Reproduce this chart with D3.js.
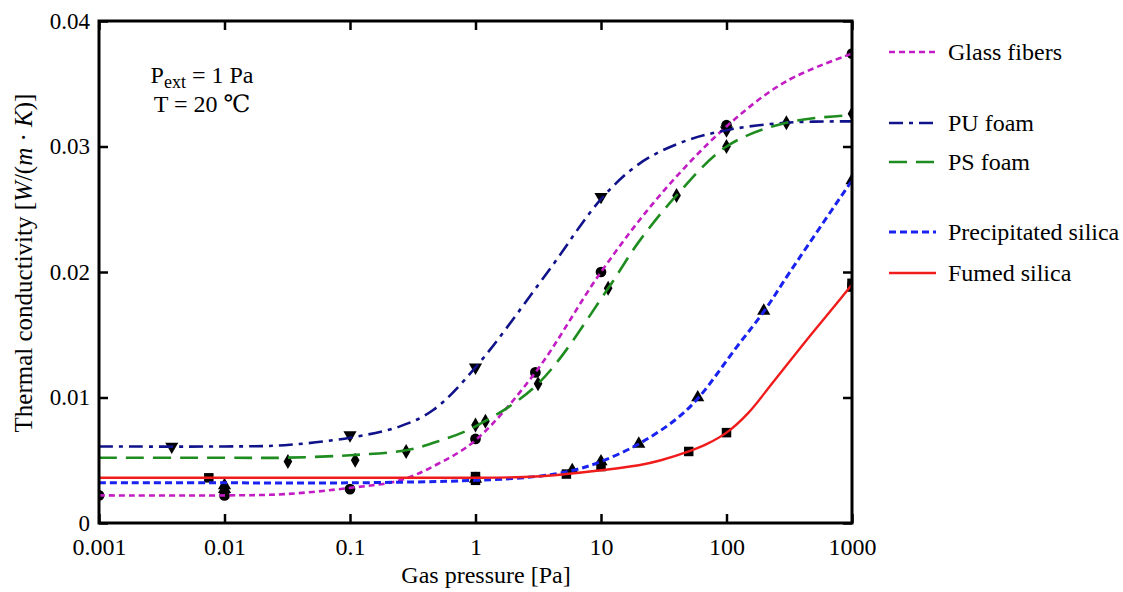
<!DOCTYPE html>
<html>
<head>
<meta charset="utf-8">
<script src="https://cdn.jsdelivr.net/npm/d3@7"></script>
<style>
  html, body { margin: 0; padding: 0; background: #fff; }
  svg text { font-family: "Liberation Serif", "Times New Roman", Tinos, "DejaVu Serif", serif !important; fill: #000; }
</style>
</head>
<body>
<svg id="chart" width="1123" height="592"></svg>
<script>
// Axis ticks
const pressureTicks = [0.001, 0.01, 0.1, 1, 10, 100, 1000];
const pressureTickLabels = ["0.001", "0.01", "0.1", "1", "10", "100", "1000"];
const conductivityTicks = [0, 0.01, 0.02, 0.03, 0.04];
const conductivityTickLabels = ["0", "0.01", "0.02", "0.03", "0.04"];

// Series names
const seriesNames = ["Glass fibers", "PU foam", "PS foam", "Precipitated silica", "Fumed silica"];

// Fitted curves: gas pressure [Pa] and thermal conductivity [W/(m·K)]
const glassCurveP = [0.001, 0.01, 0.03, 0.1, 0.25, 0.5, 1, 3, 10, 30, 100, 300, 1000];
const glassCurveK = [0.0022, 0.0022, 0.0023, 0.0028, 0.0034, 0.0047, 0.0066, 0.0120, 0.0200, 0.0262, 0.0316, 0.0352, 0.0374];

const puCurveP = [0.001, 0.01, 0.03, 0.1, 0.25, 0.46, 1, 3.7, 10, 20, 43, 100, 300, 1000];
const puCurveK = [0.0061, 0.0061, 0.0062, 0.0068, 0.0077, 0.0090, 0.0124, 0.0199, 0.0258, 0.0286, 0.0303, 0.0313, 0.0319, 0.0320];

const psCurveP = [0.001, 0.01, 0.03, 0.1, 0.28, 0.5, 1, 3.15, 11.4, 20, 40, 100, 300, 1000];
const psCurveK = [0.0052, 0.0052, 0.0052, 0.0054, 0.0058, 0.0065, 0.0077, 0.0111, 0.0187, 0.0224, 0.0261, 0.0300, 0.0319, 0.0325];

const precipCurveP = [0.001, 0.01, 0.1, 1, 3, 6, 10, 20, 40, 60, 120, 200, 320, 1000];
const precipCurveK = [0.0032, 0.0032, 0.0032, 0.0034, 0.0037, 0.0042, 0.0049, 0.0063, 0.0083, 0.0100, 0.0140, 0.0169, 0.0200, 0.0273];

const fumedCurveP = [0.001, 0.1, 1, 3, 5.3, 10, 20, 30, 50, 70, 100, 150, 234, 437, 801, 1000];
const fumedCurveK = [0.0036, 0.0036, 0.0036, 0.0037, 0.0039, 0.0042, 0.0046, 0.0050, 0.0057, 0.0063, 0.0072, 0.0088, 0.0112, 0.0146, 0.0178, 0.0190];

// Measured points
const glassPointsP = [0.001, 0.01, 0.1, 1, 3, 10, 100, 1000];
const glassPointsK = [0.0022, 0.0022, 0.0027, 0.0067, 0.0120, 0.0200, 0.0317, 0.0374];

const puPointsP = [0.0038, 0.1, 1, 10, 100];
const puPointsK = [0.0061, 0.0070, 0.0124, 0.0260, 0.0313];

const psPointsP = [0.032, 0.11, 0.28, 1, 1.2, 3.15, 11.4, 40, 100, 300, 1000];
const psPointsK = [0.0049, 0.0050, 0.0057, 0.0078, 0.0081, 0.0111, 0.0187, 0.0261, 0.0300, 0.0319, 0.0326];

const precipPointsP = [0.01, 0.01, 1, 5.9, 10, 20, 59, 198, 1000];
const precipPointsK = [0.0030, 0.0027, 0.0035, 0.0042, 0.0049, 0.0063, 0.0100, 0.0169, 0.0273];

const fumedPointsP = [0.0075, 1, 1, 5.3, 10, 50, 100, 1000, 1000];
const fumedPointsK = [0.0036, 0.0037, 0.0034, 0.0039, 0.0045, 0.0057, 0.0072, 0.0188, 0.0191];

const serif = '"Liberation Serif", "Times New Roman", Tinos, "DejaVu Serif", serif';

const svg = d3.select("#chart");
const plot = { left: 99, right: 852, top: 21, bottom: 523 };

const x = d3.scaleLog().domain([0.001, 1000]).range([plot.left, plot.right]);
const y = d3.scaleLinear().domain([0, 0.04]).range([plot.bottom, plot.top]);

const series = [
  { name: seriesNames[0], cp: glassCurveP, ck: glassCurveK, pp: glassPointsP, pk: glassPointsK,
    color: "#c21cc4", dash: "6,4", width: 2.6, marker: "circle" },
  { name: seriesNames[1], cp: puCurveP, ck: puCurveK, pp: puPointsP, pk: puPointsK,
    color: "#10128a", dash: "14,6,4,6", width: 2.6, marker: "down" },
  { name: seriesNames[2], cp: psCurveP, ck: psCurveK, pp: psPointsP, pk: psPointsK,
    color: "#1f8c1f", dash: "18,9", width: 2.6, marker: "diamond" },
  { name: seriesNames[3], cp: precipCurveP, ck: precipCurveK, pp: precipPointsP, pk: precipPointsK,
    color: "#1a22f0", dash: "7,4", width: 3, marker: "up" },
  { name: seriesNames[4], cp: fumedCurveP, ck: fumedCurveK, pp: fumedPointsP, pk: fumedPointsK,
    color: "#f01c1c", dash: null, width: 2.4, marker: "square" }
];

const symbolFor = {
  circle: d3.symbol().type(d3.symbolCircle).size(90),
  down: d3.symbol().type(d3.symbolTriangle).size(75),
  up: d3.symbol().type(d3.symbolTriangle).size(75),
  diamond: d3.symbol().type(d3.symbolDiamond).size(65),
  square: d3.symbol().type(d3.symbolSquare).size(90)
};

svg.append("defs").append("clipPath").attr("id", "plot-clip")
  .append("rect")
  .attr("x", plot.left).attr("y", plot.top)
  .attr("width", plot.right - plot.left).attr("height", plot.bottom - plot.top);

const line = d3.line()
  .x(d => x(d[0]))
  .y(d => y(d[1]))
  .curve(d3.curveCatmullRom.alpha(0.5));

const marks = svg.append("g").attr("clip-path", "url(#plot-clip)");

// Markers below the fitted curves
series.forEach(s => {
  const pts = s.pp.map((p, i) => [p, s.pk[i]]);
  marks.append("g").selectAll("path")
    .data(pts)
    .join("path")
    .attr("d", symbolFor[s.marker])
    .attr("transform", d => `translate(${x(d[0])},${y(d[1])})` + (s.marker === "down" ? " rotate(180)" : ""))
    .attr("fill", "#000");
});

series.forEach(s => {
  const pts = s.cp.map((p, i) => [p, s.ck[i]]);
  marks.append("path")
    .datum(pts)
    .attr("d", line)
    .attr("fill", "none")
    .attr("stroke", s.color)
    .attr("stroke-width", s.width)
    .attr("stroke-dasharray", s.dash);
});

// Frame and axes
const tickSize = 9;
const xAxisB = d3.axisBottom(x).tickValues(pressureTicks)
  .tickFormat((d, i) => pressureTickLabels[i]).tickSizeInner(-tickSize).tickSizeOuter(0).tickPadding(15);
const xAxisT = d3.axisTop(x).tickValues(pressureTicks).tickFormat("").tickSizeInner(-tickSize).tickSizeOuter(0);
const yAxisL = d3.axisLeft(y).tickValues(conductivityTicks)
  .tickFormat((d, i) => conductivityTickLabels[i]).tickSizeInner(-tickSize).tickSizeOuter(0).tickPadding(9);
const yAxisR = d3.axisRight(y).tickValues(conductivityTicks).tickFormat("").tickSizeInner(-tickSize).tickSizeOuter(0);

function styleAxis(g, size) {
  g.attr("font-family", serif).attr("font-size", size);
  g.select(".domain").remove();
  g.selectAll(".tick line").attr("stroke", "#000").attr("stroke-width", 2.5);
  g.selectAll(".tick text").attr("fill", "#000");
}

svg.append("g").attr("transform", `translate(0,${plot.bottom})`).call(xAxisB).call(styleAxis, 24);
svg.append("g").attr("transform", `translate(0,${plot.top})`).call(xAxisT).call(styleAxis, 24);
svg.append("g").attr("transform", `translate(${plot.left},0)`).call(yAxisL).call(styleAxis, 23);
svg.append("g").attr("transform", `translate(${plot.right},0)`).call(yAxisR).call(styleAxis, 23);

svg.append("rect")
  .attr("x", plot.left).attr("y", plot.top)
  .attr("width", plot.right - plot.left).attr("height", plot.bottom - plot.top)
  .attr("fill", "none").attr("stroke", "#000").attr("stroke-width", 3);

// Axis titles
svg.append("text")
  .attr("x", 486).attr("y", 583)
  .attr("text-anchor", "middle")
  .attr("font-family", serif)
  .style("font-size", "24px")
  .text("Gas pressure [Pa]");

const yTitle = svg.append("text")
  .attr("transform", `translate(32,263) rotate(-90)`)
  .attr("text-anchor", "middle")
  .attr("font-family", serif)
  .style("font-size", "25px");
yTitle.append("tspan").text("Thermal conductivity [");
yTitle.append("tspan").style("font-style", "italic").text("W");
yTitle.append("tspan").text("/(");
yTitle.append("tspan").style("font-style", "italic").text("m");
yTitle.append("tspan").text(" · ");
yTitle.append("tspan").style("font-style", "italic").text("K");
yTitle.append("tspan").text(")]");

// Conditions note
const note = svg.append("g").attr("font-family", serif).style("font-size", "24px");
const n1 = note.append("text").attr("x", 202).attr("y", 83).attr("text-anchor", "middle");
n1.append("tspan").text("P");
n1.append("tspan").attr("dy", 5).style("font-size", "18px").text("ext");
n1.append("tspan").attr("dy", -5).text(" = 1 Pa");
note.append("text").attr("x", 202).attr("y", 112).attr("text-anchor", "middle").text("T = 20 ℃");

// Legend
const legendY = [52, 123, 162, 232, 273];
const legend = svg.append("g").attr("font-family", serif);
series.forEach((s, i) => {
  const g = legend.append("g").attr("transform", `translate(0,${legendY[i]})`);
  g.append("line")
    .attr("x1", 889).attr("x2", 936).attr("y1", 0).attr("y2", 0)
    .attr("stroke", s.color).attr("stroke-width", s.width)
    .attr("stroke-dasharray", s.dash);
  g.append("text").attr("x", 948).attr("y", 8)
    .style("font-size", "24px").text(s.name);
});
</script>
</body>
</html>
